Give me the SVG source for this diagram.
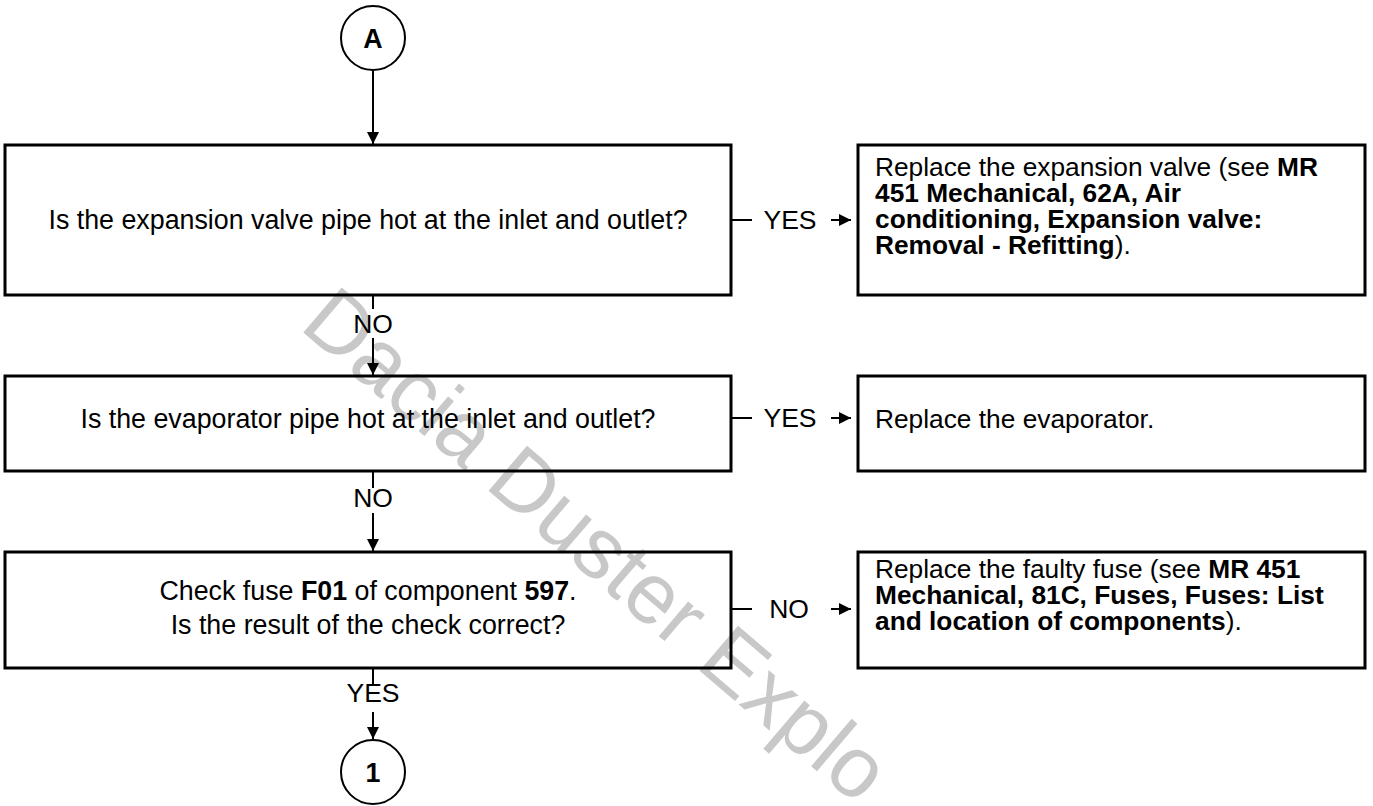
<svg xmlns="http://www.w3.org/2000/svg" width="1373" height="806" viewBox="0 0 1373 806">
<style>
  .box { fill: none; stroke: #000000; stroke-width: 3; }
  .circ { fill: none; stroke: #000000; stroke-width: 2; }
  .ln { stroke: #000000; stroke-width: 2; fill: none; }
  .t { font-family: "Liberation Sans", Arial, sans-serif; font-size: 26.8px; fill: #000000; }
  .r { font-family: "Liberation Sans", Arial, sans-serif; font-size: 26.3px; fill: #000000; }
  .c { text-anchor: middle; }
  .b { font-weight: bold; }
  .lbl { font-family: "Liberation Sans", Arial, sans-serif; font-size: 26.5px; fill: #000000; text-anchor: middle; }
  .wm { font-family: "Liberation Sans", Arial, sans-serif; font-size: 86px; fill: #c8c8c8; }
</style>
<defs>
  <marker id="ah" viewBox="0 0 10 10" refX="10" refY="5" markerWidth="6" markerHeight="6" markerUnits="strokeWidth" orient="auto">
    <path d="M0,0 L10,5 L0,10 z" fill="#000000"/>
  </marker>
</defs>
<rect width="1373" height="806" fill="#ffffff"/>

<g id="watermark">
  <text class="wm" transform="translate(298,328) rotate(40.5)">Dacia Duster Explo</text>
</g>

<g id="connectors">
  <line class="ln" x1="373" y1="71" x2="373" y2="144" marker-end="url(#ah)"/>
  <line class="ln" x1="373" y1="296" x2="373" y2="309"/>
  <text class="lbl" x="373" y="333">NO</text>
  <line class="ln" x1="373" y1="338" x2="373" y2="375" marker-end="url(#ah)"/>
  <line class="ln" x1="373" y1="472" x2="373" y2="488"/>
  <text class="lbl" x="373" y="507">NO</text>
  <line class="ln" x1="373" y1="513" x2="373" y2="551" marker-end="url(#ah)"/>
  <line class="ln" x1="373" y1="669" x2="373" y2="685"/>
  <text class="lbl" x="373" y="702">YES</text>
  <line class="ln" x1="373" y1="712" x2="373" y2="739" marker-end="url(#ah)"/>

  <line class="ln" x1="731" y1="220" x2="752" y2="220"/>
  <text class="lbl" x="790" y="229">YES</text>
  <line class="ln" x1="831" y1="220" x2="851" y2="220" marker-end="url(#ah)"/>
  <line class="ln" x1="731" y1="418" x2="752" y2="418"/>
  <text class="lbl" x="790" y="427">YES</text>
  <line class="ln" x1="831" y1="418" x2="851" y2="418" marker-end="url(#ah)"/>
  <line class="ln" x1="731" y1="609" x2="752" y2="609"/>
  <text class="lbl" x="789" y="618">NO</text>
  <line class="ln" x1="831" y1="609" x2="851" y2="609" marker-end="url(#ah)"/>
</g>

<g id="nodeA">
  <circle class="circ" cx="373" cy="38" r="32"/>
  <text class="t c b" x="373" y="48">A</text>
</g>

<g id="q1">
  <rect class="box" x="5" y="145" width="726" height="150"/>
  <text class="t c" x="368" y="229">Is the expansion valve pipe hot at the inlet and outlet?</text>
</g>
<g id="r1">
  <rect class="box" x="858" y="145" width="507" height="150"/>
  <text class="r" x="875" y="176">Replace the expansion valve (see <tspan class="b">MR</tspan></text>
  <text class="r b" x="875" y="202">451 Mechanical, 62A, Air</text>
  <text class="r b" x="875" y="228">conditioning, Expansion valve:</text>
  <text class="r" x="875" y="254"><tspan class="b">Removal - Refitting</tspan>).</text>
</g>

<g id="q2">
  <rect class="box" x="5" y="376" width="726" height="95"/>
  <text class="t c" x="368" y="428">Is the evaporator pipe hot at the inlet and outlet?</text>
</g>
<g id="r2">
  <rect class="box" x="858" y="376" width="507" height="95"/>
  <text class="r" x="875" y="428">Replace the evaporator.</text>
</g>

<g id="q3">
  <rect class="box" x="5" y="552" width="726" height="116"/>
  <text class="t c" x="368" y="600">Check fuse <tspan class="b">F01</tspan> of component <tspan class="b">597</tspan>.</text>
  <text class="t c" x="368" y="634">Is the result of the check correct?</text>
</g>
<g id="r3">
  <rect class="box" x="858" y="552" width="507" height="116"/>
  <text class="r" x="875" y="578">Replace the faulty fuse (see <tspan class="b">MR 451</tspan></text>
  <text class="r b" x="875" y="604">Mechanical, 81C, Fuses, Fuses: List</text>
  <text class="r" x="875" y="630"><tspan class="b">and location of components</tspan>).</text>
</g>

<g id="node1">
  <circle class="circ" cx="373" cy="772" r="32"/>
  <text class="t c b" x="373" y="782">1</text>
</g>
</svg>
